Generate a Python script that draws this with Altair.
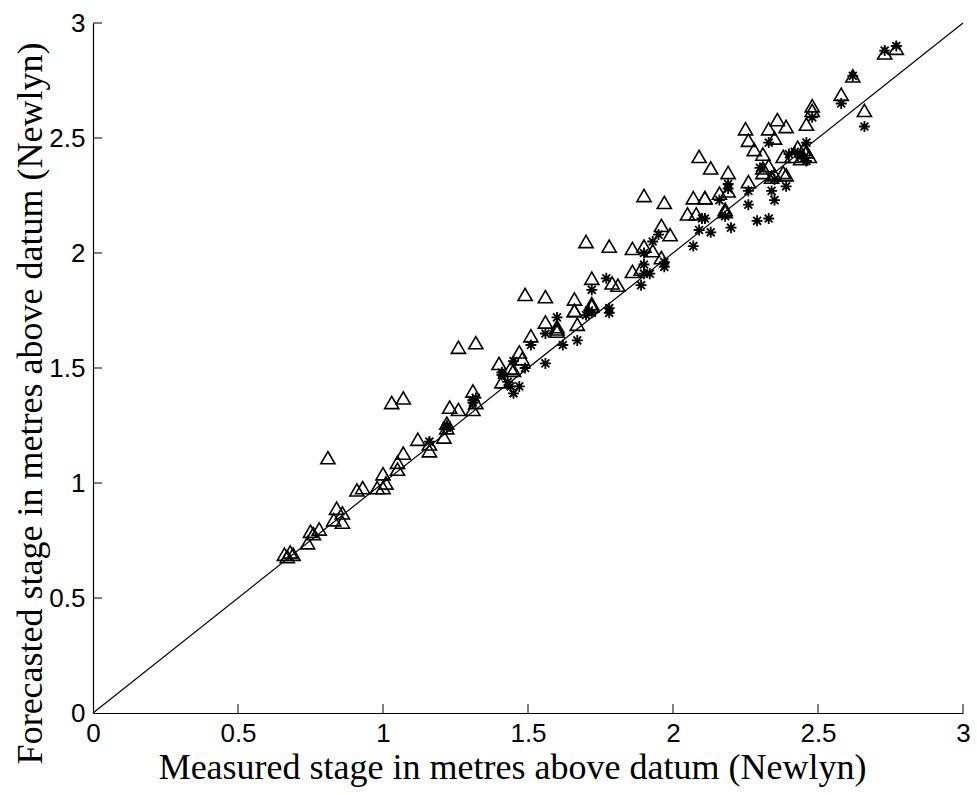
import altair as alt
import pandas as pd

# Triangles (open) : measured, forecasted
tri_x = [0.67, 0.68, 0.69, 0.66, 0.75, 0.74, 0.78, 0.76, 0.81,
         0.84, 0.86, 0.83, 0.86, 0.91, 0.93, 0.98, 1.00, 1.01, 1.00, 1.05, 1.05, 1.07,
         1.03, 1.07, 1.12, 1.16, 1.16, 1.21, 1.22, 1.22, 1.23, 1.26, 1.26, 1.32,
         1.31, 1.31, 1.32, 1.40, 1.41, 1.44, 1.47, 1.48, 1.45, 1.49, 1.56,
         1.51, 1.56, 1.60, 1.60, 1.67, 1.66, 1.72, 1.60, 1.70, 1.78,
         1.72, 1.79, 1.81, 1.72, 1.66, 1.66, 1.86, 1.90, 1.93, 1.96, 1.89, 1.86, 1.96, 1.99,
         1.90, 1.97, 2.05, 2.08, 2.07, 2.11, 2.16, 2.19, 2.18, 2.18, 2.11,
         2.09, 2.13, 2.19, 2.26, 2.25, 2.33, 2.35, 2.26, 2.36, 2.39, 2.46, 2.28, 2.31,
         2.31, 2.35, 2.39, 2.34, 2.38, 2.31, 2.33, 2.38, 2.43, 2.45, 2.46, 2.44, 2.47, 2.41,
         2.48, 2.48, 2.58, 2.62, 2.66, 2.73, 2.77]
tri_y = [0.68, 0.70, 0.69, 0.69, 0.79, 0.74, 0.80, 0.78, 1.11,
         0.89, 0.87, 0.84, 0.83, 0.97, 0.98, 0.98, 0.98, 1.00, 1.04, 1.06, 1.09, 1.13,
         1.35, 1.37, 1.19, 1.17, 1.14, 1.20, 1.26, 1.24, 1.33, 1.32, 1.59, 1.61,
         1.40, 1.32, 1.35, 1.52, 1.44, 1.50, 1.57, 1.54, 1.49, 1.82, 1.81,
         1.64, 1.70, 1.68, 1.66, 1.69, 1.75, 1.77, 1.67, 2.05, 2.03,
         1.89, 1.87, 1.86, 1.78, 1.80, 1.75, 2.02, 2.03, 2.01, 1.98, 1.93, 1.92, 2.12, 2.08,
         2.25, 2.22, 2.17, 2.17, 2.24, 2.24, 2.26, 2.27, 2.18, 2.19, 2.24,
         2.42, 2.37, 2.35, 2.31, 2.54, 2.54, 2.50, 2.49, 2.58, 2.55, 2.56, 2.45, 2.43,
         2.35, 2.34, 2.34, 2.33, 2.35, 2.37, 2.38, 2.42, 2.46, 2.45, 2.44, 2.41, 2.42, 2.42,
         2.64, 2.62, 2.69, 2.77, 2.62, 2.87, 2.89]

# Asterisks : measured, forecasted
ast_x = [1.16, 1.22, 1.22, 1.31, 1.31, 1.32,
         1.41, 1.41, 1.45, 1.49, 1.44, 1.47, 1.45, 1.43,
         1.51, 1.56, 1.56, 1.60, 1.62, 1.67, 1.71, 1.70,
         1.72, 1.77, 1.78, 1.78, 1.72,
         1.93, 1.90, 1.97, 1.97, 1.90, 1.90, 1.89, 1.92, 1.95,
         2.19, 2.16, 2.11, 2.09, 2.13, 2.20, 2.07, 2.19, 2.18, 2.10,
         2.26, 2.26, 2.29, 2.33, 2.34, 2.35, 2.39, 2.30, 2.35, 2.33,
         2.40, 2.46, 2.46, 2.42, 2.44, 2.45,
         2.48, 2.58, 2.66, 2.62, 2.73, 2.77]
ast_y = [1.18, 1.25, 1.24, 1.36, 1.35, 1.37,
         1.48, 1.47, 1.53, 1.50, 1.42, 1.42, 1.39, 1.44,
         1.60, 1.65, 1.52, 1.72, 1.60, 1.62, 1.75, 1.73,
         1.84, 1.89, 1.76, 1.74, 1.74,
         2.05, 2.00, 1.96, 1.94, 1.95, 1.91, 1.86, 1.91, 2.08,
         2.30, 2.23, 2.15, 2.10, 2.09, 2.11, 2.03, 2.28, 2.16, 2.15,
         2.27, 2.21, 2.14, 2.15, 2.27, 2.23, 2.29, 2.37, 2.32, 2.48,
         2.43, 2.48, 2.40, 2.44, 2.43, 2.41,
         2.59, 2.65, 2.55, 2.77, 2.88, 2.90]

line_vals = [0, 3]
tick_vals = [0.5, 1, 1.5, 2, 2.5, 3]
label_vals = [0, 0.5, 1, 1.5, 2, 2.5, 3]

W, H = 870, 690
dom = [0, 3]
sx = alt.Scale(domain=dom, nice=False, zero=False)
sy = alt.Scale(domain=dom, nice=False, zero=False)

xaxis = alt.Axis(values=label_vals, format="~g", ticks=False,
                 labelPadding=7, labelFontSize=26, labelFlush=False, labelOverlap=False,
                 title="Measured stage in metres above datum (Newlyn)",
                 titleX=419, titleY=65, titleBaseline="alphabetic")
yaxis = alt.Axis(values=label_vals, format="~g", ticks=False,
                 labelPadding=8, labelFontSize=26, labelFlush=False, labelOverlap=False,
                 title="Forecasted stage in metres above datum (Newlyn)",
                 titleX=-63, titleY=380, titleAngle=-90, titleAlign="center",
                 titleBaseline="middle")

tri_df = pd.DataFrame({"x": tri_x, "y": tri_y})
ast_df = pd.DataFrame({"x": ast_x, "y": ast_y})
line_df = pd.DataFrame({"x": line_vals, "y": line_vals})
tick_df = pd.DataFrame({"v": tick_vals})

diag = alt.Chart(line_df).mark_line(color="black", strokeWidth=1.2).encode(
    x=alt.X("x:Q", scale=sx, axis=xaxis),
    y=alt.Y("y:Q", scale=sy, axis=yaxis),
)

tri = alt.Chart(tri_df).mark_point(shape="triangle-up", size=200, filled=False,
                                   color="black", strokeWidth=1.6, opacity=1).encode(
    x=alt.X("x:Q", scale=sx), y=alt.Y("y:Q", scale=sy))

star_path = "M-1,0L1,0M0,-1L0,1M-0.72,-0.72L0.72,0.72M-0.72,0.72L0.72,-0.72"
ast = alt.Chart(ast_df).mark_point(shape=star_path, size=120, filled=False,
                                   color="black", strokeWidth=1.8, opacity=1).encode(
    x=alt.X("x:Q", scale=sx), y=alt.Y("y:Q", scale=sy))

xticks = alt.Chart(tick_df).mark_rule(color="black", strokeWidth=1).encode(
    x=alt.X("v:Q", scale=sx), y=alt.value(H), y2=alt.value(H - 9))
yticks = alt.Chart(tick_df).mark_rule(color="black", strokeWidth=1).encode(
    y=alt.Y("v:Q", scale=sy), x=alt.value(0), x2=alt.value(9))

chart = alt.layer(diag, tri, ast, xticks, yticks).properties(
    width=W, height=H,
    autosize=alt.AutoSizeParams(type="none"),
    padding={"left": 93, "top": 23, "right": 14, "bottom": 82},
).configure_view(stroke=None).configure_axis(
    grid=False, domainColor="black", domainWidth=1.2,
    labelColor="black", labelFont="Liberation Sans, Arial",
    titleFont="Liberation Serif, Times New Roman", titleFontSize=36,
    titleFontWeight="normal", titleColor="black",
)

chart.save("out.html", embed_options={"renderer": "svg", "actions": False})
